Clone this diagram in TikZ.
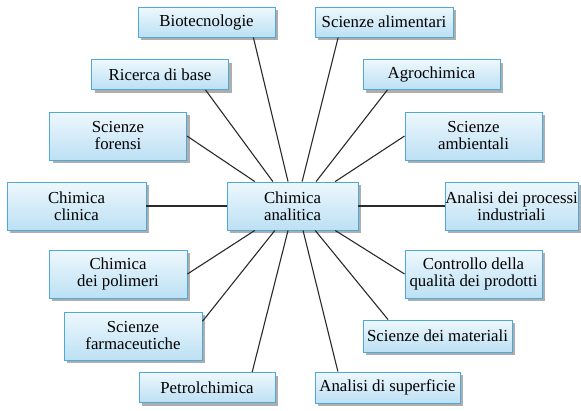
\documentclass[tikz,border=0pt]{standalone}
\usepackage{fontspec}
\setmainfont{Liberation Serif}
\usetikzlibrary{calc,shadows}
\definecolor{boxtop}{HTML}{EEF8FD}
\definecolor{boxbot}{HTML}{BCE0F4}
\definecolor{boxline}{HTML}{4FA8D8}
\definecolor{shad}{HTML}{9A9A9A}
\definecolor{linkc}{HTML}{2A2A2A}
\tikzset{
  box/.style={draw=boxline, line width=0.9pt, top color=boxtop, bottom color=boxbot,
    minimum width=137pt, minimum height=30pt, inner sep=0pt, align=center,
    font=\fontsize{16.8}{17}\selectfont,
    drop shadow={shadow xshift=3pt, shadow yshift=-3pt, fill=shad, opacity=0.8}},
  tall/.style={minimum height=48pt},
  link/.style={draw=linkc, line width=1.1pt}
}
\begin{document}
\begin{tikzpicture}[x=1pt,y=-1pt]
\useasboundingbox (0,0) rectangle (581,410);
\node[box] (bio) at (206.5,22) {Biotecnologie};
\node[box] (ric) at (160,74.5) {Ricerca di base};
\node[box,tall] (for) at (118,136) {Scienze\\forensi};
\node[box,tall,minimum width=139pt] (cli) at (76.5,206) {Chimica\\clinica};
\node[box,tall,minimum width=131pt] (ana) at (292.5,206) {Chimica\\analitica};
\node[box,minimum width=138pt] (ali) at (384,22) {Scienze alimentari};
\node[box] (agr) at (431.5,74.5) {Agrochimica};
\node[box,tall] (amb) at (473.5,136) {Scienze\\ambientali};
\node[box,tall,minimum width=133pt] (pro) at (511.5,206) {Analisi dei processi\\industriali};
\node[box,tall,minimum width=138pt] (pol) at (118,274) {Chimica\\dei polimeri};
\node[box,tall,minimum width=138pt] (far) at (133,336) {Scienze\\farmaceutiche};
\node[box,minimum width=136pt] (pet) at (207,387.5) {Petrolchimica};
\node[box,tall] (con) at (473.5,274) {Controllo della\\qualità dei prodotti};
\node[box,minimum width=149pt,minimum height=32pt] (mat) at (437.5,336) {Scienze dei materiali};
\node[box,minimum width=145pt,minimum height=31pt] (sup) at (387.5,387.5) {Analisi di superficie};
% attachment points on the central box
\coordinate (t1) at ($(ana.north west)!0.214!(ana.north east)$);
\coordinate (t2) at ($(ana.north west)!0.351!(ana.north east)$);
\coordinate (t3) at ($(ana.north west)!0.466!(ana.north east)$);
\coordinate (t4) at ($(ana.north west)!0.573!(ana.north east)$);
\coordinate (t5) at ($(ana.north west)!0.679!(ana.north east)$);
\coordinate (t6) at ($(ana.north west)!0.824!(ana.north east)$);
\coordinate (b1) at ($(ana.south west)!0.214!(ana.south east)$);
\coordinate (b2) at ($(ana.south west)!0.366!(ana.south east)$);
\coordinate (b3) at ($(ana.south west)!0.466!(ana.south east)$);
\coordinate (b4) at ($(ana.south west)!0.580!(ana.south east)$);
\coordinate (b5) at ($(ana.south west)!0.672!(ana.south east)$);
\coordinate (b6) at ($(ana.south west)!0.824!(ana.south east)$);
% connectors
\draw[link] (for.east) -- (t1);
\draw[link] ($(ric.south west)!0.83!(ric.south east)$) -- (t2);
\draw[link] ($(bio.south west)!0.84!(bio.south east)$) -- (t3);
\draw[link] ($(ali.south west)!0.17!(ali.south east)$) -- (t4);
\draw[link] ($(agr.south west)!0.18!(agr.south east)$) -- (t5);
\draw[link] (amb.west) -- (t6);
\draw[link] (cli.east) -- (ana.west);
\draw[link] (ana.east) -- (pro.west);
\draw[link] (pol.east) -- (b1);
\draw[link] ($(far.north east)!0.2!(far.south east)$) -- (b2);
\draw[link] ($(pet.north west)!0.83!(pet.north east)$) -- (b3);
\draw[link] ($(sup.north west)!0.16!(sup.north east)$) -- (b4);
\draw[link] ($(mat.north west)!0.17!(mat.north east)$) -- (b5);
\draw[link] (con.west) -- (b6);
\end{tikzpicture}
\end{document}
